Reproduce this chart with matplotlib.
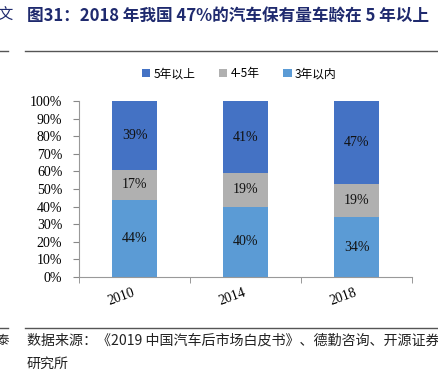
import matplotlib
matplotlib.use("Agg")
import matplotlib.pyplot as plt
import numpy as np
from matplotlib.lines import Line2D

years = ["2010", "2014", "2018"]
under3 = [44, 40, 34]
y4to5 = [17, 19, 19]
over5 = [39, 41, 47]
series_names = ["5年以上", "4-5年", "3年以内"]
colors = {"5年以上": "#4472C4", "4-5年": "#B0B0B0", "3年以内": "#5B9BD5"}

serif = ["Liberation Serif", "Noto Sans CJK SC"]
cjk = ["Noto Sans CJK SC", "DejaVu Sans"]

fig = plt.figure(figsize=(4.39, 3.69), dpi=100)
ax = fig.add_axes([0.18, 0.2493, 0.7585, 0.477])

x = np.arange(len(years))
w = 0.4
b1 = ax.bar(x, under3, w, color=colors["3年以内"], label="3年以内")
b2 = ax.bar(x, y4to5, w, bottom=under3, color=colors["4-5年"], label="4-5年")
bottom2 = [a + b for a, b in zip(under3, y4to5)]
b3 = ax.bar(x, over5, w, bottom=bottom2, color=colors["5年以上"], label="5年以上")

for bars, vals, bots in [(b1, under3, [0]*3), (b2, y4to5, under3), (b3, over5, bottom2)]:
    for xi, v, bt in zip(x, vals, bots):
        ax.text(xi, bt + v / 2, f"{v}%", ha="center", va="center",
                fontsize=10, family=serif, color="#111111")

ax.set_xlim(-0.5, 2.5)
ax.set_ylim(0, 100)
ax.set_yticks(range(0, 101, 10))
ax.set_yticklabels([f"{v}%" for v in range(0, 101, 10)], family=serif, fontsize=10)
ax.set_xticks(x)
ax.set_xticklabels(years, family=serif, fontsize=10, rotation=20,
                   ha="right", va="center", rotation_mode="anchor")
ax.tick_params(axis="x", length=0, pad=11)
ax.set_xticks([-0.5, 0.5, 1.5, 2.5], minor=True)
ax.tick_params(axis="x", which="minor", length=4, color="#888888", direction="out")
ax.tick_params(axis="y", length=4, color="#888888", direction="out", pad=8)
for s in ["top", "right"]:
    ax.spines[s].set_visible(False)
for s in ["left", "bottom"]:
    ax.spines[s].set_color("#999999")

handles = [b3, b2, b1]
leg = fig.legend(handles, series_names, loc="center", bbox_to_anchor=(0.545, 0.8),
                 ncol=3, frameon=False, prop={"family": cjk, "size": 8.5},
                 handlelength=0.7, handleheight=0.7, handletextpad=0.3, columnspacing=2.0)

fig.text(0.061, 0.958, "图31：2018 年我国 47%的汽车保有量车龄在 5 年以上", fontsize=12,
         fontweight="bold", color="#1F2A6E", family=cjk, va="center")
fig.text(-0.005, 0.958, "文", fontsize=11, color="#1F2A6E", family=cjk, va="center")

fig.add_artist(Line2D([0.057, 0.995], [0.862, 0.862], color="#555555", lw=1))
fig.add_artist(Line2D([0.0, 0.018], [0.862, 0.862], color="#555555", lw=1))
fig.add_artist(Line2D([0.057, 0.995], [0.111, 0.111], color="#555555", lw=1))
fig.add_artist(Line2D([0.0, 0.018], [0.111, 0.111], color="#555555", lw=1))

fig.text(0.061, 0.078, "数据来源：《2019 中国汽车后市场白皮书》、德勤咨询、开源证券", fontsize=10.1,
         family=cjk, color="#222222", va="center")
fig.text(0.061, 0.015, "研究所", fontsize=10.1, family=cjk, color="#222222", va="center")
fig.text(-0.008, 0.078, "泰", fontsize=9, family=cjk, color="#222222", va="center")

fig.savefig("out.png", dpi=100)
